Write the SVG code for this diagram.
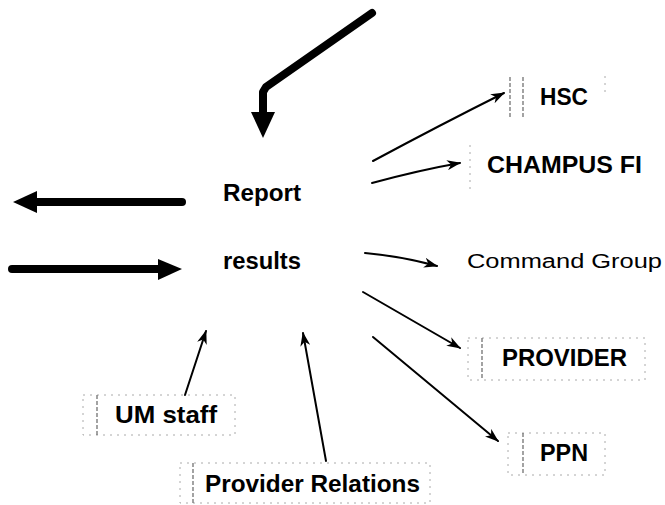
<svg xmlns="http://www.w3.org/2000/svg" width="665" height="505" viewBox="0 0 665 505">
  <style>
    .lbl { font-family: "Liberation Sans", Arial, sans-serif; font-weight: bold; fill: #000; }
    .plain { font-family: "Liberation Sans", Arial, sans-serif; fill: #000; }
    .frame { fill: none; stroke: #aaa; stroke-width: 1; stroke-dasharray: 2 5; }
    .bar { stroke: #666; stroke-width: 1.2; stroke-dasharray: 4 2; }
    .thin { fill: none; stroke: #000; stroke-width: 2; stroke-linecap: round; }
    .thick { fill: none; stroke: #000; stroke-width: 8; stroke-linecap: round; stroke-linejoin: round; }
  </style>
  <defs>
    <marker id="head" viewBox="0 0 14 10" refX="13" refY="5" markerWidth="14" markerHeight="10" markerUnits="userSpaceOnUse" orient="auto">
      <path d="M0,0 L14,5 L0,10 L4,5 Z" fill="#000"/>
    </marker>
  </defs>
  <rect width="665" height="505" fill="#fff"/>

  <!-- connectors -->
  <g id="connectors">
    <!-- heavy incoming flow from above -->
    <path class="thick" d="M372,13 L266,87 L263,92 L263,114"/>
    <path d="M251,112 L275,112 L263,138 Z" fill="#000"/>
    <!-- heavy flows on the left -->
    <path class="thick" d="M182,202 L36,202" stroke-linecap="butt"/>
    <path d="M37,191 L37,213 L13,202 Z" fill="#000"/>
    <path class="thick" d="M12,269 L160,269" stroke-linecap="butt"/>
    <path d="M158,259 L158,280 L182,269 Z" fill="#000"/>

    <!-- outgoing reports -->
    <path class="thin" d="M373,161 Q440,125 504,93" marker-end="url(#head)"/>
    <path class="thin" d="M372,183 Q420,170 460,163" marker-end="url(#head)"/>
    <path class="thin" d="M365,253 Q400,256 437,266" marker-end="url(#head)"/>
    <path class="thin" d="M363,292 L460,348" marker-end="url(#head)"/>
    <path class="thin" d="M373,337 L498,441" marker-end="url(#head)"/>
    <!-- incoming inputs -->
    <path class="thin" d="M185,395 L206,331" marker-end="url(#head)"/>
    <path class="thin" d="M326,461 L303,333" marker-end="url(#head)"/>
  </g>

  <!-- central process -->
  <g id="report">
    <text class="lbl" x="223" y="201" font-size="23" textLength="78" lengthAdjust="spacingAndGlyphs">Report</text>
    <text class="lbl" x="223" y="269" font-size="23" textLength="78" lengthAdjust="spacingAndGlyphs">results</text>
  </g>

  <g id="hsc">
    <line class="bar" x1="510" y1="77" x2="510" y2="118"/>
    <line class="bar" x1="523" y1="77" x2="523" y2="118"/>
    <line class="frame" x1="605" y1="76" x2="605" y2="96"/>
    <text class="lbl" x="540" y="105" font-size="23" textLength="48" lengthAdjust="spacingAndGlyphs">HSC</text>
  </g>

  <g id="champus">
    <line class="frame" x1="470" y1="145" x2="470" y2="190"/>
    <text class="lbl" x="487" y="173" font-size="24" textLength="155" lengthAdjust="spacingAndGlyphs">CHAMPUS FI</text>
  </g>

  <g id="command">
    <text class="plain" x="467" y="268" font-size="20" textLength="195" lengthAdjust="spacingAndGlyphs">Command Group</text>
  </g>

  <g id="provider">
    <rect class="frame" x="468" y="338" width="177" height="42"/>
    <line class="bar" x1="482" y1="338" x2="482" y2="380"/>
    <text class="lbl" x="502" y="366" font-size="23" textLength="125" lengthAdjust="spacingAndGlyphs">PROVIDER</text>
  </g>

  <g id="ppn">
    <rect class="frame" x="508" y="433" width="97" height="42"/>
    <line class="bar" x1="523" y1="433" x2="523" y2="475"/>
    <text class="lbl" x="540" y="461" font-size="23" textLength="48" lengthAdjust="spacingAndGlyphs">PPN</text>
  </g>

  <g id="umstaff">
    <rect class="frame" x="83" y="395" width="152" height="40"/>
    <line class="bar" x1="97" y1="395" x2="97" y2="435"/>
    <text class="lbl" x="115" y="423" font-size="24" textLength="102" lengthAdjust="spacingAndGlyphs">UM staff</text>
  </g>

  <g id="provrel">
    <rect class="frame" x="180" y="463" width="250" height="40"/>
    <line class="bar" x1="193" y1="463" x2="193" y2="503"/>
    <text class="lbl" x="205" y="492" font-size="24" textLength="215" lengthAdjust="spacingAndGlyphs">Provider Relations</text>
  </g>
</svg>
